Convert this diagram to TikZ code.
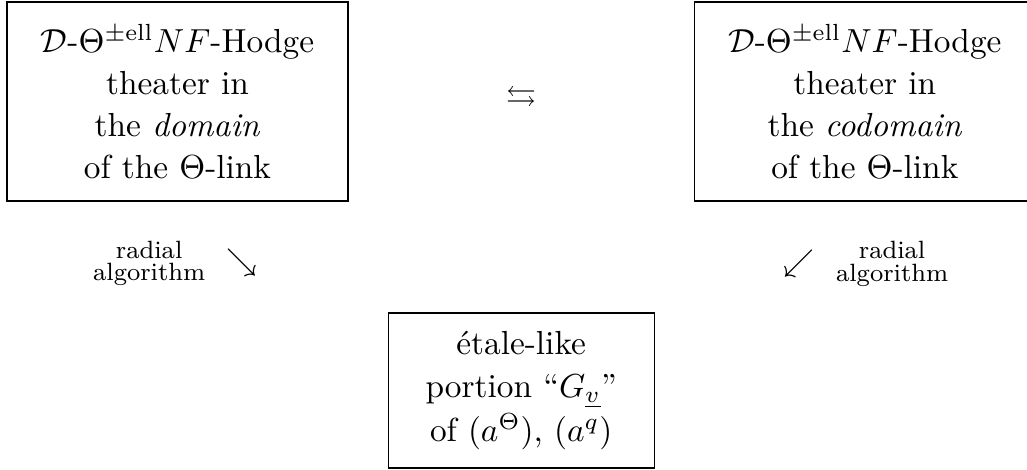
\documentclass[tikz,border=0pt]{standalone}
\usepackage{amsmath}
\usepackage{amssymb}
\usepackage{tikz}
\usetikzlibrary{positioning,calc}

\begin{document}
\begin{tikzpicture}[
    node distance=103.5pt,
    theater/.style={rectangle, draw, thin,
                  minimum width=102.3pt, minimum height=59.7pt,
                  align=center, inner sep=0pt,
                  font=\fontsize{10}{12.6}\selectfont},
    portion/.style={theater, minimum width=79.8pt, minimum height=46.5pt,
                  font=\fontsize{10}{13}\selectfont},
    sym/.style  ={inner sep=0pt, font=\fontsize{9}{10}\selectfont},
    alg/.style  ={align=center, inner sep=0pt,
                  font=\fontsize{7.5}{6.8}\selectfont}
]
\useasboundingbox (0,0) rectangle (308.1pt,-141pt);

\node[theater] (dom) at (53.25pt,-30.45pt)
  {$\mathcal{D}$-$\Theta^{\pm\mathrm{ell}}NF$-Hodge\\theater in\\the \emph{domain}\\of the $\Theta$-link};
\node[theater, right=of dom] (cod)
  {$\mathcal{D}$-$\Theta^{\pm\mathrm{ell}}NF$-Hodge\\theater in\\the \emph{codomain}\\of the $\Theta$-link};
\node[portion] (etl) at ($(dom)!0.5!(cod)+(0,-86.7pt)$)
  {\'etale-like\\portion \textquotedblleft$G_{\underline{v}}$\textquotedblright\\of $(a^{\Theta})$, $(a^{q})$};

\node[sym] (link) at ($(dom)!0.5!(cod)+(0,0.6pt)$) {$\leftrightarrows$};

\node[sym] (rdom) at ($(dom)+(19.35pt,-48.6pt)$) {$\searrow$};
\node[sym] (rcod) at ($(cod)+(-19.65pt,-48.7pt)$) {$\swarrow$};
\node[alg, left=6pt of rdom]  (ldom) {radial\\algorithm};
\node[alg, right=6pt of rcod] (lcod) {radial\\algorithm};
\end{tikzpicture}
\end{document}
